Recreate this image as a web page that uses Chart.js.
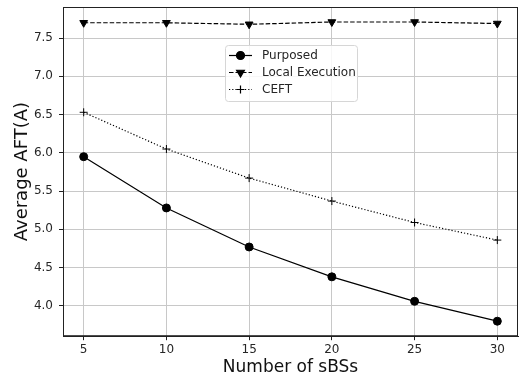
<!DOCTYPE html>
<html>
<head>
<meta charset="utf-8">
<script src="https://cdn.jsdelivr.net/npm/chart.js@4"></script>
<style>
  html, body { margin: 0; padding: 0; background: #fff; }
  #wrap { width: 520px; height: 378px; }
</style>
</head>
<body>
<div id="wrap"><canvas id="c" width="520" height="378"></canvas></div>
<script>
// data
const sbsCounts = [5, 10, 15, 20, 25, 30];
const purposed = [5.95, 5.28, 4.77, 4.38, 4.06, 3.80];
const localExecution = [7.70, 7.70, 7.68, 7.71, 7.71, 7.69];
const ceft = [6.53, 6.05, 5.67, 5.37, 5.09, 4.86];

const xTicks = [5, 10, 15, 20, 25, 30];
const yTicks = [4.0, 4.5, 5.0, 5.5, 6.0, 6.5, 7.0, 7.5];

const toPoints = vals => sbsCounts.map((x, i) => ({ x: x, y: vals[i] }));

const FONT = "'DejaVu Sans', sans-serif";

// matplotlib-like frame + legend box
const framePlugin = {
  id: 'frame',
  afterDraw(chart) {
    const { ctx, chartArea: a } = chart;
    ctx.save();
    ctx.strokeStyle = '#222';
    ctx.lineWidth = 1;
    ctx.strokeRect(a.left + 0.5, a.top + 0.5, a.right - a.left - 1, a.bottom - a.top - 1);

    // legend
    const lx = a.left + 162, ly = a.top + 38, lw = 132, lh = 56;
    ctx.fillStyle = 'rgba(255,255,255,0.85)';
    ctx.strokeStyle = '#d6d6d6';
    ctx.beginPath();
    ctx.roundRect(lx + 0.5, ly + 0.5, lw, lh, 3);
    ctx.fill();
    ctx.stroke();

    chart.data.datasets.forEach((ds, i) => {
      const y = ly + 10.5 + i * 17;
      const x0 = lx + 4, x1 = lx + 27, xm = (x0 + x1) / 2;
      ctx.strokeStyle = '#000';
      ctx.fillStyle = '#000';
      ctx.lineWidth = 1.2;
      ctx.setLineDash(ds.borderDash || []);
      ctx.beginPath();
      ctx.moveTo(x0, y);
      ctx.lineTo(x1, y);
      ctx.stroke();
      ctx.setLineDash([]);
      Chart.helpers.drawPoint(ctx, {
        pointStyle: ds.pointStyle,
        radius: ds.pointRadius,
        rotation: ds.pointRotation || 0,
        borderWidth: ds.pointBorderWidth || 1
      }, xm, y);
      ctx.fillStyle = '#262626';
      ctx.font = '12px ' + FONT;
      ctx.textBaseline = 'middle';
      ctx.textAlign = 'left';
      ctx.fillText(ds.label, lx + 37, y);
    });
    ctx.restore();
  }
};

const noOverhang = s => { s.paddingTop = 0; s.paddingBottom = 0; s.paddingLeft = 0; s.paddingRight = 0; };

new Chart(document.getElementById('c'), {
  type: 'line',
  data: {
    datasets: [
      {
        label: 'Purposed',
        data: toPoints(purposed),
        borderColor: '#000',
        backgroundColor: '#000',
        borderWidth: 1.2,
        pointStyle: 'circle',
        pointRadius: 4,
        pointBorderWidth: 1,
        tension: 0
      },
      {
        label: 'Local Execution',
        data: toPoints(localExecution),
        borderColor: '#000',
        backgroundColor: '#000',
        borderWidth: 1.2,
        borderDash: [4.5, 2],
        pointStyle: 'triangle',
        pointRotation: 180,
        pointRadius: 4.5,
        pointBorderWidth: 1,
        tension: 0
      },
      {
        label: 'CEFT',
        data: toPoints(ceft),
        borderColor: '#000',
        backgroundColor: '#000',
        borderWidth: 1.2,
        borderDash: [1.2, 2],
        pointStyle: 'cross',
        pointRadius: 4,
        pointBorderWidth: 1,
        tension: 0
      }
    ]
  },
  options: {
    responsive: false,
    animation: false,
    events: [],
    layout: { autoPadding: false, padding: { top: 7, right: 2, left: 12, bottom: 0 } },
    plugins: { legend: { display: false }, tooltip: { enabled: false } },
    scales: {
      x: {
        type: 'linear',
        min: 3.75,
        max: 31.25,
        afterBuildTicks: s => { s.ticks = xTicks.map(v => ({ value: v })); },
        afterFit: noOverhang,
        grid: { color: '#c8c8c8', lineWidth: 1, tickColor: '#222', tickLength: 4 },
        border: { color: '#222' },
        ticks: { color: '#262626', font: { family: FONT, size: 12 }, padding: 2, maxRotation: 0 },
        title: { display: true, text: 'Number of sBSs', color: '#111', font: { family: FONT, size: 17 }, padding: { top: -1, bottom: 0 } }
      },
      y: {
        min: 3.604,
        max: 7.906,
        afterBuildTicks: s => { s.ticks = yTicks.map(v => ({ value: v })); },
        afterFit: s => { noOverhang(s); s.width = 51; },
        grid: { color: '#c8c8c8', lineWidth: 1, tickColor: '#222', tickLength: 4 },
        border: { color: '#222' },
        ticks: { color: '#262626', font: { family: FONT, size: 12 }, padding: 6, callback: v => v.toFixed(1) },
        title: { display: true, text: 'Average AFT(A)', color: '#111', font: { family: FONT, size: 18 }, padding: { top: 0, bottom: 1 } }
      }
    }
  },
  plugins: [framePlugin]
});
</script>
</body>
</html>
